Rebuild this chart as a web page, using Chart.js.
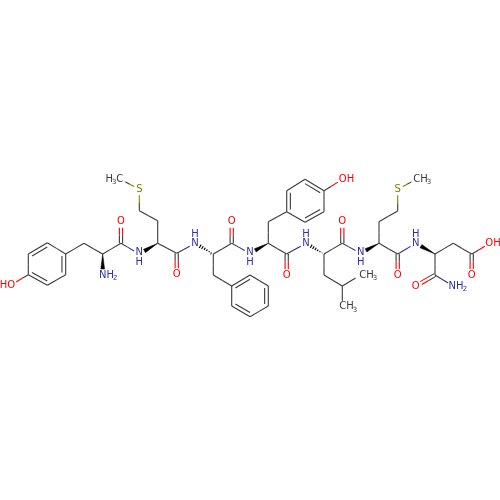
<!DOCTYPE html>
<html>
<head>
<meta charset="UTF-8" />
<title>Peptide structure</title>
<script src="https://cdn.jsdelivr.net/npm/chart.js@4"></script>
<style>
    html, body { margin: 0; padding: 0; background: #fff; }
    canvas { display: block; }
</style>
</head>
<body>
<canvas id="chart" width="500" height="500"></canvas>
<script>
// atom positions, in picture units
const atomX = [11, 28.3, 28.3, 47.3, 65.7, 65.7, 47.3, 84, 102.7, 102.7, 121, 121, 139.3, 157.7, 157.7, 139.3, 139.3, 120,
    176.7, 176.7, 195, 213.3, 231.7, 231.7, 250, 213.3, 231.7, 250, 268.3, 268.3, 250, 231.7,
    268.3, 268.3, 286.7, 286.7, 305, 324, 324, 305, 343, 286.7, 286.7, 306, 324, 342.3, 342.3, 360.7,
    324, 342.3, 342.3, 360.7, 379, 379, 397.7, 397.7, 416.7, 397.7, 397.7, 415.7, 435, 453.3, 471.7, 471.7, 490, 435, 415.7, 453.3];
const atomY = [285, 274.7, 254, 242.7, 254, 274.7, 285.3, 243.3, 254, 275, 243.3, 221.7, 254, 243.3, 220.7, 210.7, 189.3, 179,
    253.3, 274.3, 243.3, 254, 243.3, 221.7, 253.3, 275, 286, 275, 286, 306, 316.7, 306,
    243.3, 221.7, 211.7, 190.7, 179.3, 190.7, 211.7, 222.3, 179, 254, 275, 243.3, 254, 243.3, 221.7, 253.3,
    275, 286, 306.7, 275, 243.3, 221.7, 211, 189.3, 179, 254, 275, 243.3, 254, 243.3, 254, 275, 243.3, 275, 286, 286];
const atomKind = ('O CCCCCCCC N C O N CCC S M C O N CC O N CCCCCCC CCCCCCCC O C O N CC O N CC MM CCC S M C O N CCC O O C O N')
    .replace(/ /g, '').split('');

const singleA = [0, 1, 3, 5, 4, 7, 8, 10, 13, 14, 15, 16, 13, 18, 21, 22, 21, 25, 27, 29, 31, 32, 33, 35, 37, 39, 37,
    32, 41, 44, 45, 44, 48, 49, 49, 52, 53, 54, 55, 52, 57, 60, 61, 62, 60, 65];
const singleB = [1, 2, 4, 6, 7, 8, 10, 12, 14, 15, 16, 17, 18, 20, 22, 24, 25, 26, 28, 30, 26, 33, 34, 36, 38, 34, 40,
    41, 43, 45, 47, 48, 49, 50, 51, 53, 54, 55, 56, 57, 59, 61, 62, 64, 65, 67];
// carbonyl double bonds, offset to both sides
const carbonylA = [10, 18, 22, 41, 45, 57, 62, 65];
const carbonylB = [11, 19, 23, 42, 46, 58, 63, 66];
// aromatic double bonds, inner line drawn towards the ring centre
const aromaticA = [2, 4, 6, 26, 28, 30, 34, 36, 38];
const aromaticB = [3, 5, 1, 27, 29, 31, 35, 37, 39];
const ringCentreX = [47, 47, 47, 250, 250, 250, 305, 305, 305];
const ringCentreY = [264, 264, 264, 296, 296, 296, 201, 201, 201];
// stereo bonds, narrow end first
const wedgeA = [8, 13, 32, 52, 60];
const wedgeB = [9, 12, 24, 47, 59];
const hashA = [21, 44];
const hashB = [20, 43];

const labelText = ['HO', 'NH', '2', 'O', 'N', 'H', 'S', 'H', '3', 'C', 'O', 'H', 'N', 'O', 'N', 'H', 'O', 'OH', 'H', 'N',
    'O', 'N', 'H', 'CH', '3', 'CH', '3', 'S', 'CH', '3', 'O', 'H', 'N', 'O', 'OH', 'O', 'NH', '2'];
const labelX = [7.5, 106.5, 115.3, 121, 139.3, 139.3, 139.3, 109.3, 114.3, 119.7, 176.7, 195, 195, 231.7, 250, 250, 286.7, 346.5, 306, 306,
    342.3, 360.7, 360.7, 366.5, 375, 346.5, 355, 397.7, 420.5, 429, 397.7, 415.7, 415.7, 471.7, 493, 415.7, 456, 465];
const labelY = [285, 275, 278.5, 221.7, 252.8, 262, 189.3, 179, 181.7, 179, 274.3, 234, 243.3, 221.7, 252.8, 262, 275, 179, 234, 243.3,
    221.7, 252.8, 262, 275, 278.5, 306.7, 310, 189.3, 179, 182.5, 275, 234, 243.3, 275, 243.3, 286, 286, 289.5];
const labelKind = ['O', 'N', 'Ns', 'O', 'N', 'N', 'S', 'C', 'Cs', 'C', 'O', 'N', 'N', 'O', 'N', 'N', 'O', 'O', 'N', 'N',
    'O', 'N', 'N', 'C', 'Cs', 'C', 'Cs', 'S', 'C', 'Cs', 'O', 'N', 'N', 'O', 'O', 'O', 'N', 'Ns'];

const colours = { C: '#3a3a3a', M: '#3a3a3a', O: '#ff0000', N: '#2f2f9f', S: '#808000' };
const gap = 6;

function end(a, b) {
    // point on a->b, pulled back from a when a carries a text label
    const dx = atomX[b] - atomX[a], dy = atomY[b] - atomY[a], len = Math.hypot(dx, dy);
    const g = atomKind[a] === 'C' ? 0 : gap;
    return { x: atomX[a] + dx / len * g, y: atomY[a] + dy / len * g };
}

const datasets = [];
function stroke(p, q, colour) {
    datasets.push({ data: [p, q], showLine: true, borderColor: colour, borderWidth: 1.1, pointRadius: 0, fill: false });
}
function halfBond(p, q, ka, kb) {
    const m = { x: (p.x + q.x) / 2, y: (p.y + q.y) / 2 };
    stroke(p, m, colours[ka]);
    stroke(m, q, colours[kb]);
}
function shift(p, ox, oy) { return { x: p.x + ox, y: p.y + oy }; }

singleA.forEach((a, i) => {
    const b = singleB[i];
    halfBond(end(a, b), end(b, a), atomKind[a], atomKind[b]);
});

carbonylA.forEach((a, i) => {
    const b = carbonylB[i];
    const p = end(a, b), q = end(b, a), len = Math.hypot(q.x - p.x, q.y - p.y);
    const ox = -(q.y - p.y) / len * 1.6, oy = (q.x - p.x) / len * 1.6;
    halfBond(shift(p, ox, oy), shift(q, ox, oy), atomKind[a], atomKind[b]);
    halfBond(shift(p, -ox, -oy), shift(q, -ox, -oy), atomKind[a], atomKind[b]);
});

aromaticA.forEach((a, i) => {
    const b = aromaticB[i];
    const p = { x: atomX[a], y: atomY[a] }, q = { x: atomX[b], y: atomY[b] };
    stroke(p, q, colours.C);
    const inner = t => ({
        x: t.x + (ringCentreX[i] - t.x) * 0.2,
        y: t.y + (ringCentreY[i] - t.y) * 0.2
    });
    stroke(inner(p), inner(q), colours.C);
});

wedgeA.forEach((a, i) => {
    const b = wedgeB[i];
    const p = { x: atomX[a], y: atomY[a] }, q = end(b, a), len = Math.hypot(q.x - p.x, q.y - p.y);
    const ox = -(q.y - p.y) / len * 1.9, oy = (q.x - p.x) / len * 1.9;
    datasets.push({
        data: [p, shift(q, ox, oy), shift(q, -ox, -oy), p],
        showLine: true, borderColor: '#000', backgroundColor: '#000', borderWidth: 0.5, pointRadius: 0, fill: 'shape'
    });
});

hashA.forEach((a, i) => {
    const b = hashB[i];
    const p = { x: atomX[a], y: atomY[a] }, q = end(b, a), len = Math.hypot(q.x - p.x, q.y - p.y);
    const ux = -(q.y - p.y) / len, uy = (q.x - p.x) / len;
    [0.15, 0.32, 0.49, 0.66, 0.83, 1].forEach(t => {
        const c = { x: p.x + (q.x - p.x) * t, y: p.y + (q.y - p.y) * t }, w = 2 * t;
        stroke(shift(c, ux * w, uy * w), shift(c, -ux * w, -uy * w), '#000');
    });
});

const labelPlugin = {
    id: 'atomLabels',
    afterDatasetsDraw(chart) {
        const ctx = chart.ctx, sx = chart.scales.x, sy = chart.scales.y;
        ctx.save();
        ctx.textAlign = 'center';
        ctx.textBaseline = 'middle';
        labelText.forEach((t, i) => {
            const small = labelKind[i].length > 1;
            ctx.font = (small ? '7px' : '10px') + ' "DejaVu Sans"';
            ctx.fillStyle = colours[labelKind[i][0]];
            ctx.fillText(t, sx.getPixelForValue(labelX[i]), sy.getPixelForValue(labelY[i]));
        });
        ctx.restore();
    }
};

new Chart('chart', {
    type: 'scatter',
    data: { datasets: datasets },
    plugins: [labelPlugin],
    options: {
        responsive: false,
        animation: false,
        layout: { padding: 0 },
        scales: {
            x: { type: 'linear', min: 0, max: 500, display: false },
            y: { type: 'linear', min: 0, max: 500, reverse: true, display: false }
        },
        plugins: { legend: { display: false }, tooltip: { enabled: false } }
    }
});
</script>
</body>
</html>
